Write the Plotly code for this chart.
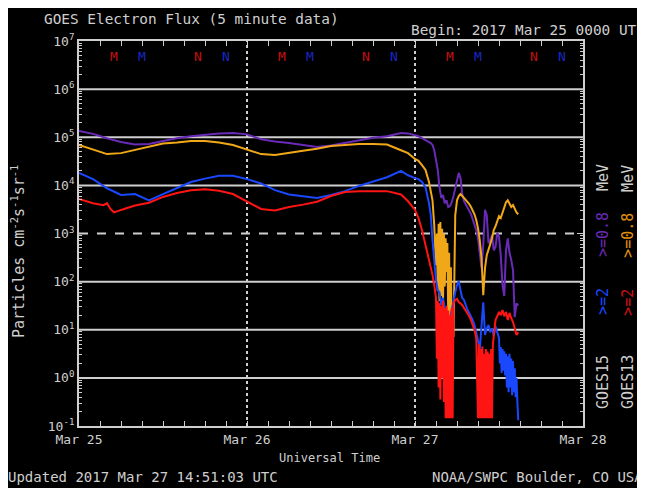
import numpy as np
import pandas as pd
import plotly.graph_objects as go

# ---------------- data (hours after 2017-03-25 00:00 UTC, log10 flux) -------------
smooth_hours = [0, 2, 4, 6, 8, 10, 12, 14, 16, 18, 20, 22, 24, 26, 28, 30, 32, 34,
                36, 38, 40, 42, 44, 46, 47, 48]
red_smooth_hours = [0, 2, 3.5, 4, 4.5, 5, 6, 8, 10, 12, 14, 16, 18, 20, 22, 24, 26,
                    28, 30, 32, 34, 36, 38, 40, 42, 44, 46, 47, 48]
q_all = [48.5, 49, 49.5, 50, 50.25, 50.5, 50.75, 51, 51.25, 51.5, 51.75, 52, 52.25,
         52.5, 52.75, 53, 53.25, 53.5, 53.75, 54, 54.25, 54.5, 54.75, 55, 55.25,
         55.5, 55.75, 56, 56.25, 56.5, 56.75, 57, 57.25, 57.5, 57.75, 58, 58.25,
         58.5, 58.75, 59, 59.25, 59.5, 59.75, 60, 60.25, 60.5, 60.75, 61, 61.25,
         61.5, 61.75, 62, 62.25, 62.5, 62.75]
q_a = [48.5, 49, 49.5, 50, 50.25, 50.5, 50.75]
e_b = [51, 51.125, 51.25, 51.375, 51.5, 51.625, 51.75, 51.875, 52, 52.125, 52.25,
       52.375, 52.5, 52.625, 52.75, 52.875, 53, 53.125, 53.25, 53.375, 53.5]
q_c = [53.75, 54, 54.25, 54.5, 54.75, 55, 55.25, 55.5, 55.75, 56, 56.25, 56.5,
       56.75, 57, 57.25, 57.5, 57.75, 58, 58.25, 58.5, 58.75, 59, 59.25, 59.5,
       59.75, 60, 60.25, 60.5, 60.75, 61, 61.25, 61.5, 61.75, 62, 62.25, 62.5, 62.75]
q_d = [53.75, 54, 54.25, 54.5, 54.75, 55, 55.25, 55.5, 55.75, 56, 56.25, 56.5, 56.75]
e_e = [57, 57.125, 57.25, 57.375, 57.5, 57.625, 57.75, 57.875, 58, 58.125, 58.25,
       58.375, 58.5, 58.625, 58.75, 58.875, 59, 59.125, 59.25]
q_f = [59.5, 59.75, 60, 60.25, 60.5, 60.75, 61, 61.25, 61.5, 61.75, 62, 62.25, 62.5,
       62.75]
q_g = [48.5, 49, 49.5, 50, 50.25, 50.5, 50.75, 51, 51.25, 51.5, 51.75, 52, 52.25,
       52.5, 52.75, 53, 53.25, 53.5, 53.75, 54, 54.25, 54.5, 54.75, 55, 55.25, 55.5,
       55.75, 56, 56.25, 56.5, 56.75, 57, 57.25, 57.5, 57.75, 58, 58.25, 58.5, 58.75,
       59, 59.25, 59.5, 59.75]
e_h = [60, 60.125, 60.25, 60.375, 60.5, 60.625, 60.75, 60.875, 61, 61.125, 61.25,
       61.375, 61.5, 61.625, 61.75, 61.875, 62, 62.125, 62.25, 62.375, 62.5, 62.625,
       62.75]

# GOES15 >=0.8 MeV (purple)
g15_08_hours = smooth_hours + q_all
g15_08_log = [5.13, 5.07, 4.98, 4.90, 4.85, 4.86, 4.92, 4.98, 5.02, 5.05, 5.08, 5.09,
              5.06, 4.96, 4.91, 4.88, 4.84, 4.80, 4.83, 4.88, 4.94, 4.99, 5.02, 5.09,
              5.08, 5.05,
              5.02, 4.98, 4.94, 4.91, 4.88, 4.84, 4.73, 4.53, 4.32, 3.96, 3.74, 3.80,
              3.63, 3.69, 3.55, 3.57, 3.65, 3.78, 3.94, 4.11, 4.26, 4.15, 3.82, 3.67,
              3.61, 3.53, 3.47, 3.40, 3.30, 3.20, 3.07, 2.90, 2.55, 2.28, 2.76, 3.49,
              3.38, 2.80, 2.86, 2.97, 2.65, 2.72, 3.01, 2.93, 2.55, 1.93, 1.70, 2.65,
              2.90, 2.60, 2.45, 2.24, 1.26, 1.55, 1.50]
# GOES13 >=0.8 MeV (orange)
g13_08_hours = smooth_hours + q_a + e_b + q_c
g13_08_log = [4.84, 4.75, 4.65, 4.67, 4.74, 4.81, 4.87, 4.89, 4.92, 4.92, 4.89, 4.84,
              4.74, 4.65, 4.63, 4.68, 4.72, 4.76, 4.82, 4.84, 4.86, 4.86, 4.85, 4.73,
              4.67, 4.55,
              4.51, 4.42, 4.32, 4.07, 3.90, 3.69, 3.17,
              2.34, 3.00, 1.80, 3.20, 1.60, 3.24, 1.70, 3.10, 1.50, 3.00, 1.90, 2.90,
              2.20, 2.80, 1.20, 2.60, 1.00, 2.30, 0.80, 1.50, 0.85,
              3.38, 3.69, 3.78, 3.82, 3.78, 3.74, 3.69, 3.65, 3.61, 3.55, 3.49, 3.40,
              3.28, 3.11, 2.86, 2.49, 1.72, 2.28, 2.55, 2.65, 2.78, 2.90, 3.07, 3.15,
              3.24, 3.36, 3.32, 3.44, 3.57, 3.65, 3.69, 3.61, 3.55, 3.59, 3.51, 3.44,
              3.40]
# GOES15 >=2 MeV (blue)
g15_2_hours = smooth_hours + q_g + e_h
g15_2_log = [4.26, 4.13, 3.94, 3.80, 3.82, 3.69, 3.82, 3.94, 4.07, 4.14, 4.20, 4.20,
             4.13, 4.04, 3.90, 3.81, 3.77, 3.74, 3.80, 3.88, 3.99, 4.08, 4.17, 4.30,
             4.21, 4.15,
             4.13, 4.07, 3.96, 3.63, 3.38, 2.86, 2.41, 2.03, 1.82, 1.78, 1.51, 1.66,
             1.45, 1.30, 1.16, 1.24, 1.45, 1.62, 1.78, 1.93, 2.01, 1.82, 1.66, 1.62,
             1.51, 1.41, 1.35, 1.28, 1.20, 1.10, 0.95, 0.78, 0.58, 1.20, 1.57, 0.89,
             1.03, 1.10, 0.95, 1.03, 0.87, 1.07, 0.95,
             0.83, 0.30, 0.64, 0.10, 0.60, 0.15, 0.55, 0.05, 0.50, -0.20, 0.45, -0.30,
             0.50, -0.20, 0.40, -0.36, 0.35, -0.30, 0.20, -0.40, 0.00, -0.50, -0.88]
# GOES13 >=2 MeV (red)
g13_2_hours = red_smooth_hours + q_a + e_b + q_d + e_e + q_f
g13_2_log = [3.72, 3.63, 3.59, 3.63, 3.51, 3.44, 3.49, 3.58, 3.64, 3.76, 3.84, 3.90,
             3.92, 3.89, 3.82, 3.66, 3.51, 3.48, 3.55, 3.60, 3.66, 3.78, 3.86, 3.88,
             3.88, 3.88, 3.81, 3.67, 3.49,
             3.32, 3.07, 2.76, 2.49, 2.34, 2.14, 1.93,
             1.66, 0.40, 1.60, -0.20, 1.55, -0.45, 1.50, 0.00, 1.60, -0.50, 1.45, -0.84,
             1.50, -0.84, 1.40, -0.84, 1.30, -0.84, 1.45, -0.84, 1.55,
             1.62, 1.64, 1.57, 1.55, 1.51, 1.45, 1.41, 1.35, 1.28, 1.20, 1.10, 0.99,
             0.83,
             -0.84, 0.70, -0.84, 0.60, -0.84, 0.65, -0.84, 0.50, -0.84, 0.60, -0.84,
             0.55, -0.84, 0.50, -0.84, 0.60, -0.84, 0.70, 0.89,
             1.20, 1.28, 1.37, 1.30, 1.41, 1.28, 1.37, 1.20, 1.35, 1.24, 1.16, 1.03,
             0.89, 0.95]

# local midnight / noon markers (hours)
g13_M = [5, 29, 53]
g13_N = [17, 41, 65]
g15_M = [9, 33, 57]
g15_N = [21, 45, 69]

y_tick_exp = [-1, 0, 1, 2, 3, 4, 5, 6, 7]
day_labels = ["Mar 25", "Mar 26", "Mar 27", "Mar 28"]

# ---------------- figure -------------
base = pd.Timestamp("2017-03-25 00:00")


def t(hours):
    return base + pd.to_timedelta(np.asarray(hours, dtype=float), unit="h")


C_PURPLE = "#6a2ab8"
C_ORANGE = "#f0a818"
C_BLUE = "#1a48ff"
C_RED = "#ff1414"
GRAY = "#cfcfcf"
FONT = "DejaVu Sans Mono"

fig = go.Figure()
series = [
    (g15_08_hours, g15_08_log, C_PURPLE, "GOES15 >=0.8 MeV"),
    (g13_08_hours, g13_08_log, C_ORANGE, "GOES13 >=0.8 MeV"),
    (g15_2_hours, g15_2_log, C_BLUE, "GOES15 >=2 MeV"),
    (g13_2_hours, g13_2_log, C_RED, "GOES13 >=2 MeV"),
]
for hrs, lg, col, name in series:
    fig.add_trace(go.Scatter(x=t(hrs), y=10 ** np.asarray(lg), mode="lines",
                             line=dict(color=col, width=2), name=name,
                             showlegend=False))

minor_vals = [k * 10.0 ** n for n in range(-1, 7) for k in range(2, 10)]

# page body has an 8px margin: the figure is shrunk so the plot lands where intended
fig.update_layout(
    width=637, height=480,
    margin=dict(l=71, r=62, t=33, b=62),
    paper_bgcolor="black", plot_bgcolor="black",
    font=dict(family=FONT, color=GRAY, size=13),
    xaxis=dict(
        type="date", range=[base, base + pd.Timedelta(days=3)],
        tickvals=[base + pd.Timedelta(days=i) for i in range(4)],
        ticktext=day_labels, ticks="inside", ticklen=5, tickcolor=GRAY,
        minor=dict(dtick=3 * 3600 * 1000, ticks="inside", ticklen=5,
                   tickcolor=GRAY, showgrid=False),
        showgrid=False, zeroline=False, showline=True, linecolor=GRAY,
        linewidth=2, mirror="ticks", tickfont=dict(size=13, color=GRAY),
    ),
    yaxis=dict(
        type="log", range=[-1, 7],
        tickvals=[10.0 ** e for e in y_tick_exp],
        ticktext=["10<sup>%d</sup>" % e for e in y_tick_exp],
        ticks="inside", ticklen=6, tickcolor=GRAY,
        minor=dict(tickvals=minor_vals, ticks="inside", ticklen=3,
                   tickcolor=GRAY, showgrid=False),
        showgrid=False, zeroline=False, showline=True, linecolor=GRAY,
        linewidth=2, mirror="ticks", tickfont=dict(size=13, color=GRAY),
    ),
)

# horizontal decade lines (10^3 dashed) and day separators (dotted)
for e in [0, 1, 2, 3, 4, 5, 6]:
    fig.add_shape(type="line", xref="paper", x0=0, x1=1, yref="y",
                  y0=10.0 ** e, y1=10.0 ** e,
                  line=dict(color=GRAY, width=2,
                            dash="dash" if e == 3 else "solid"), layer="below")
for d in [1, 2]:
    fig.add_shape(type="line", yref="paper", y0=0, y1=1, xref="x",
                  x0=base + pd.Timedelta(days=d), x1=base + pd.Timedelta(days=d),
                  line=dict(color=GRAY, width=2, dash="dot"), layer="below")

# M / N markers
for hrs, txt, col in [(g13_M, "M", "#c81010"), (g15_M, "M", "#1828c8"),
                      (g13_N, "N", "#c81010"), (g15_N, "N", "#1828c8")]:
    for h in hrs:
        fig.add_annotation(x=t([h])[0], xref="x", y=6.68, yref="y",
                           text=txt, showarrow=False, yanchor="middle",
                           font=dict(family=FONT, size=13, color=col))


def ann(text, x, y, size=14, color=GRAY, xanchor="left", angle=0):
    fig.add_annotation(text=text, x=x, y=y, xref="paper", yref="paper",
                       xanchor=xanchor, yanchor="middle", showarrow=False,
                       textangle=angle, font=dict(family=FONT, size=size, color=color))


ann("GOES Electron Flux (5 minute data)", -0.073, 1.056, size=14.4)
ann("Begin: 2017 Mar 25 0000 UTC", 0.655, 1.028, size=14.4)
ann("Universal Time", 0.498, -0.083, size=12, xanchor="center")
ann("Updated 2017 Mar 27 14:51:03 UTC", -0.145, -0.132, size=14)
ann("NOAA/SWPC Boulder, CO USA", 1.123, -0.132, size=14, xanchor="right")
ann("Particles cm<sup>-2</sup>s<sup>-1</sup>sr<sup>-1</sup>", -0.121, 0.452,
    size=15, xanchor="center", angle=-90)

for xcol, sat, c2, c08 in [(1.0397, "GOES15", C_BLUE, C_PURPLE),
                           (1.089, "GOES13", "#d01010", "#e09010")]:
    ann(sat, xcol, 0.114, size=15, xanchor="center", angle=-90)
    ann("&gt;=2", xcol, 0.322, size=15, color=c2, xanchor="center", angle=-90)
    ann("&gt;=0.8", xcol, 0.496, size=15, color=c08, xanchor="center", angle=-90)
    ann("MeV", xcol, 0.644, size=15, xanchor="center", angle=-90)

fig.write_html("out.html")
